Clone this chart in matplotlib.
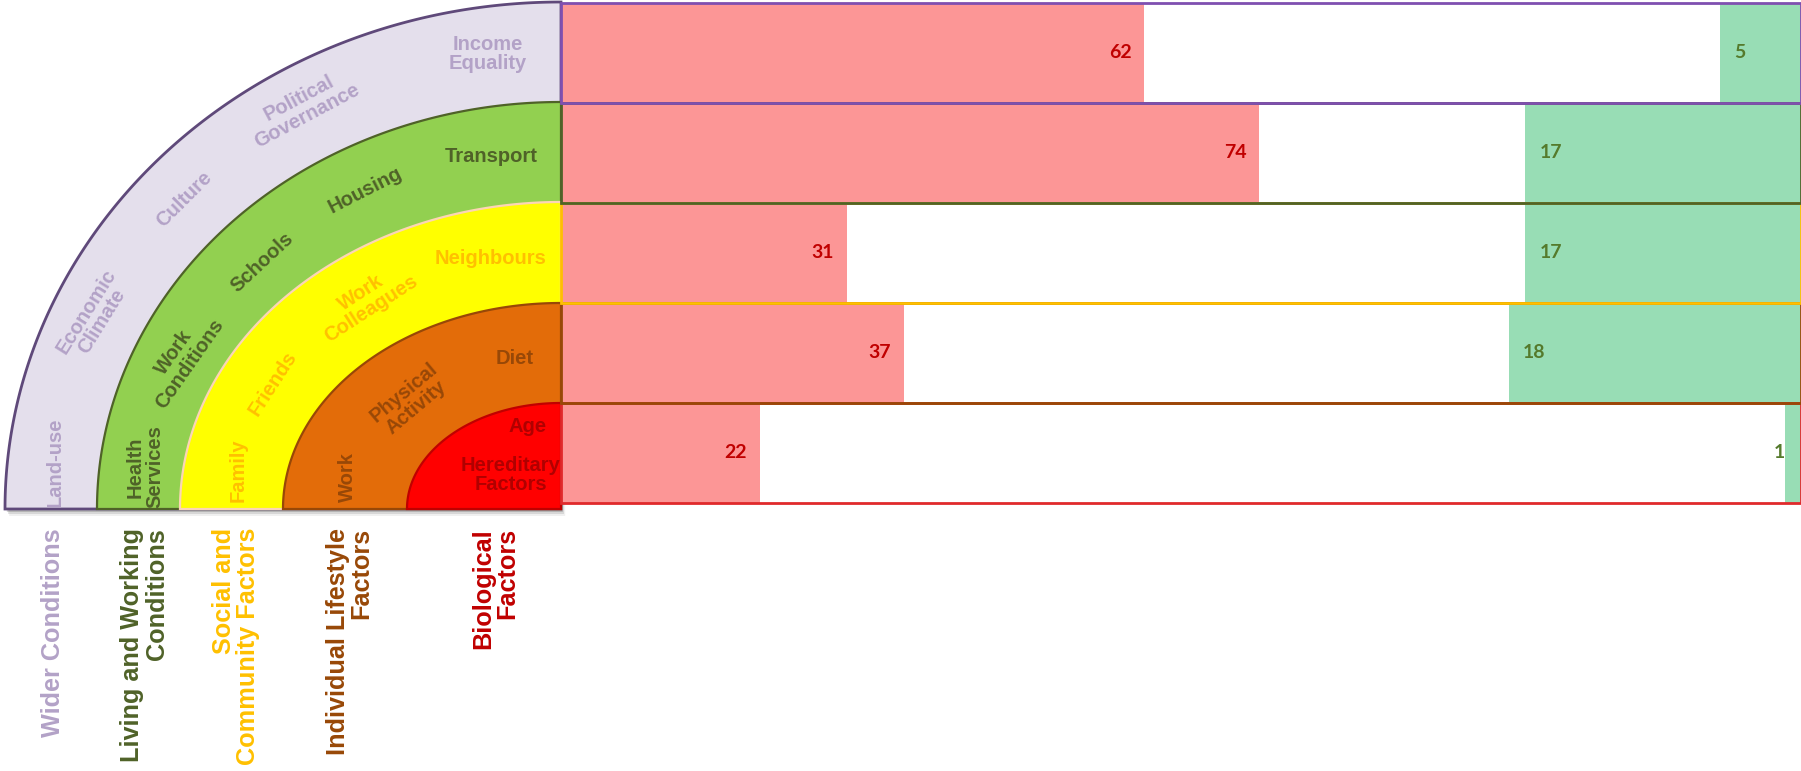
import numpy as np
import matplotlib
matplotlib.use("Agg")
import matplotlib.pyplot as plt
from matplotlib.patches import Polygon, Rectangle

# ---------------- data ----------------
categories = ["Wider Conditions", "Living and Working Conditions",
              "Social and Community Factors", "Individual Lifestyle Factors",
              "Biological Factors"]
red_values = [62, 74, 31, 37, 22]
green_values = [5, 17, 17, 18, 1]

group_titles = ["Wider Conditions", "Living and Working\nConditions",
                "Social and\nCommunity Factors", "Individual Lifestyle\nFactors",
                "Biological\nFactors"]

band_items = [
    ["Land-use", "Economic\nClimate", "Culture", "Political\nGovernance", "Income\nEquality"],
    ["Health\nServices", "Work\nConditions", "Schools", "Housing", "Transport"],
    ["Family", "Friends", "Work\nColleagues", "Neighbours"],
    ["Work", "Physical\nActivity", "Diet"],
    ["Age", "Hereditary\nFactors"],
]

# ---------------- layout / style ----------------
W, H = 1801, 771
FONT = "Liberation Sans"
fills = ["#E4DFEC", "#92D050", "#FFFF00", "#E36C09", "#FF0000"]
edges = ["#5F497A", "#4F6228", "#FCD5B5", "#984807", "#C00000"]
text_cols = ["#B3A2C7", "#4F6228", "#FFC000", "#984807", "#B00000"]
title_cols = ["#B3A2C7", "#4F6228", "#FFC000", "#984807", "#C00000"]
row_edges = ["#7F4FB0", "#4F6228", "#FFC000", "#984807", "#E0292B"]

cx, cy = 561, 509
radii = [(556, 507), (464, 407), (381, 307), (278, 206), (154, 106)]

item_pos = [
    [(55, 462, 90), (94, 316, 58), (184, 199, 45), (303, 107, 28), (488, 54, 0)],
    [(145, 467, 90), (182, 358, 55), (262, 262, 43), (365, 190, 27), (491, 157, 0)],
    [(238, 470, 90), (273, 383, 57), (366, 301, 33), (491, 258, 0)],
    [(347, 477, 90), (410, 400, 40), (515, 358, 0)],
    [(528, 426, 0), (511, 475, 0)],
]
title_pos = [53, 144.5, 235.5, 349.5, 495]

fig = plt.figure(figsize=(W / 100, H / 100), dpi=100)
fig.patch.set_facecolor("white")

bg = fig.add_axes([0, 0, 1, 1])
bg.set_xlim(0, W)
bg.set_ylim(H, 0)
bg.axis("off")


def quarter(rx, ry, dx=0, dy=0, n=240):
    t = np.linspace(0, np.pi / 2, n)
    xs = cx - rx * np.cos(t) + dx
    ys = cy - ry * np.sin(t) + dy
    return np.column_stack([np.r_[xs, cx + dx], np.r_[ys, cy + dy]])


# soft shadow
for k, a in zip([7, 5, 3], [0.06, 0.10, 0.16]):
    bg.add_patch(Polygon(quarter(*radii[0], dx=k * 0.6, dy=k), closed=True,
                         facecolor="black", edgecolor="none", alpha=a, zorder=1))

for i, (rx, ry) in enumerate(radii):
    bg.add_patch(Polygon(quarter(rx, ry), closed=True, facecolor=fills[i],
                         edgecolor=edges[i], linewidth=2.0 if i == 0 else 1.6,
                         zorder=2 + i))

for i, items in enumerate(band_items):
    for txt, (x, y, rot) in zip(items, item_pos[i]):
        bg.text(x, y, txt, color=text_cols[i], fontsize=14.5, fontweight="bold",
                family=FONT, rotation=rot, rotation_mode="anchor",
                ha="center", va="center", multialignment="center",
                linespacing=1.0, zorder=10)

for i, t in enumerate(group_titles):
    bg.text(title_pos[i], 528, t, color=title_cols[i], fontsize=18.2,
            fontweight="bold", family=FONT, rotation=90, rotation_mode="anchor",
            ha="right", va="center", multialignment="right", linespacing=1.0)

# ---------------- bars ----------------
top_px, bot_px = 2.5, 503
ax = fig.add_axes([561 / W, 1 - bot_px / H, 1240 / W, (bot_px - top_px) / H])
y = np.arange(len(categories))
ax.barh(y, red_values, height=1.0, color="#FC9696", zorder=1)
ax.set_xlim(1.25, 130.4)
ax.set_ylim(len(categories) - 0.5, -0.5)
ax.axis("off")

ax2 = ax.twiny()
ax2.barh(y, green_values, height=1.0, color="#98DDB5", zorder=1)
ax2.set_xlim(76.5, 0)
ax2.set_ylim(len(categories) - 0.5, -0.5)
ax2.axis("off")

for i in reversed(range(len(categories))):
    ax2.add_patch(Rectangle((0, i - 0.5), 1, 1, transform=ax2.get_yaxis_transform(),
                            fill=False, edgecolor=row_edges[i], linewidth=2.0,
                            clip_on=False, zorder=5))

for i, v in enumerate(red_values):
    ax.annotate(str(v), (v, i), xytext=(-13, 0), textcoords="offset pixels",
                ha="right", va="center", color="#C00000", fontsize=14,
                fontweight="bold", family="Lato")

for i, v in enumerate(green_values):
    if v >= 2:
        ax2.annotate(str(v), (v, i), xytext=(14, 0), textcoords="offset pixels",
                     ha="left", va="center", color="#557A2C", fontsize=14,
                     fontweight="bold", family="Lato", zorder=6)
    else:
        ax2.annotate(str(v), (v, i), xytext=(0, 0), textcoords="offset pixels",
                     ha="right", va="center", color="#557A2C", fontsize=14,
                     fontweight="bold", family="Lato", zorder=6)

fig.savefig("out.png", dpi=100, facecolor="white")
